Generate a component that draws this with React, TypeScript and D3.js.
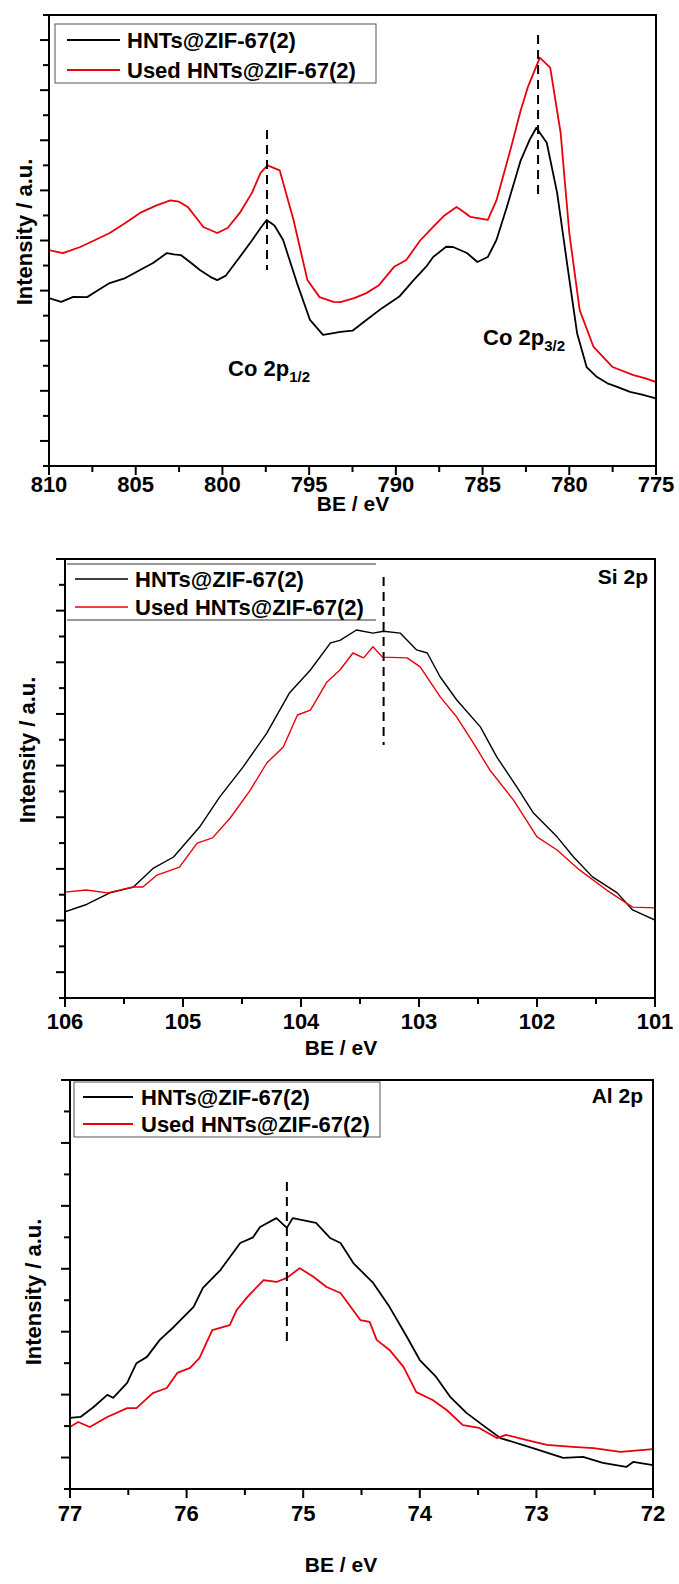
import React from "react";
import * as d3 from "d3";

// ---------------- DATA ----------------
// Co 2p panel (BE in eV, intensity in arbitrary units)
const coBlackBE = [810, 809.3, 808.6, 807.8, 807.2, 806.5, 805.6, 804.75, 804.0, 803.2, 802.8, 802.4, 801.8, 801.3, 800.7, 800.3, 799.8, 799.0, 798.3, 797.8, 797.45, 797.0, 796.5, 795.7, 794.95, 794.2, 793.6, 793.2, 792.5, 791.7, 790.8, 789.8, 789.0, 788.2, 787.85, 787.1, 786.7, 786.3, 785.9, 785.3, 784.7, 784.2, 783.6, 782.8, 782.3, 781.9, 781.3, 780.7, 780.1, 779.55, 779.0, 778.4, 777.8, 777.2, 776.5, 775.8, 775.0];
const coBlackI = [6.70, 6.55, 6.75, 6.74, 7.0, 7.3, 7.5, 7.82, 8.1, 8.5, 8.45, 8.42, 8.1, 7.82, 7.55, 7.42, 7.6, 8.34, 9.0, 9.5, 9.82, 9.6, 9.02, 7.3, 5.83, 5.23, 5.3, 5.35, 5.4, 5.83, 6.3, 6.76, 7.4, 8.0, 8.34, 8.75, 8.74, 8.62, 8.5, 8.14, 8.34, 9.02, 10.34, 12.2, 13.0, 13.5, 12.9, 10.9, 7.95, 5.3, 3.95, 3.55, 3.3, 3.15, 2.96, 2.85, 2.7];
const coRedBE = [810, 809.2, 808.2, 807.4, 806.5, 805.6, 804.75, 803.8, 803.0, 802.5, 802.0, 801.5, 801.1, 800.3, 799.7, 799.0, 798.3, 797.8, 797.4, 796.7, 795.9, 795.1, 794.4, 793.6, 793.2, 792.4, 791.7, 791.0, 790.1, 789.4, 788.6, 787.85, 787.2, 786.5, 786.0, 785.7, 784.7, 784.2, 783.4, 782.8, 782.4, 781.7, 781.1, 780.5, 780.0, 779.4, 778.6, 777.5, 776.3, 775.6, 775.0];
const coRedI = [8.62, 8.5, 8.74, 9.0, 9.3, 9.7, 10.1, 10.4, 10.6, 10.55, 10.34, 9.9, 9.54, 9.3, 9.5, 10.1, 10.9, 11.7, 12.0, 11.8, 9.82, 7.42, 6.74, 6.55, 6.54, 6.7, 6.9, 7.2, 7.95, 8.22, 9.0, 9.54, 10.0, 10.34, 10.1, 9.94, 9.82, 10.6, 12.6, 14.2, 15.1, 16.3, 15.9, 13.3, 9.3, 6.22, 4.75, 3.95, 3.63, 3.5, 3.35];

// Si 2p panel
const siBlackBE = [106, 105.83, 105.62, 105.42, 105.25, 105.08, 104.86, 104.69, 104.49, 104.29, 104.1, 103.92, 103.75, 103.67, 103.53, 103.39, 103.3, 103.16, 103.02, 102.93, 102.82, 102.68, 102.48, 102.34, 102.17, 102.03, 101.83, 101.69, 101.53, 101.32, 101.19, 101.0];
const siBlackI = [3.34, 3.6, 4.07, 4.3, 5.03, 5.46, 6.62, 7.78, 8.95, 10.26, 11.8, 12.7, 13.75, 13.85, 14.25, 14.13, 14.2, 14.13, 13.48, 13.36, 12.43, 11.54, 10.5, 9.33, 8.17, 7.16, 6.24, 5.46, 4.69, 4.07, 3.41, 3.02];
const siRedBE = [106, 105.82, 105.64, 105.42, 105.34, 105.22, 105.03, 104.88, 104.75, 104.6, 104.43, 104.29, 104.15, 104.03, 103.92, 103.78, 103.67, 103.56, 103.47, 103.39, 103.31, 103.1, 102.99, 102.82, 102.68, 102.54, 102.4, 102.2, 102.0, 101.83, 101.64, 101.41, 101.19, 101.0];
const siRedI = [4.1, 4.18, 4.07, 4.3, 4.3, 4.76, 5.07, 6.0, 6.2, 6.97, 8.05, 9.1, 9.72, 10.96, 11.15, 12.24, 12.7, 13.36, 13.17, 13.6, 13.2, 13.17, 12.82, 11.66, 10.88, 9.88, 8.83, 7.67, 6.24, 5.73, 4.96, 4.18, 3.52, 3.49];

// Al 2p panel
const alBlackBE = [77, 76.91, 76.8, 76.68, 76.63, 76.51, 76.43, 76.34, 76.23, 76.11, 75.94, 75.86, 75.71, 75.54, 75.43, 75.37, 75.23, 75.14, 75.09, 74.89, 74.77, 74.68, 74.57, 74.4, 74.26, 74.11, 74.0, 73.86, 73.74, 73.6, 73.46, 73.31, 73.03, 72.77, 72.6, 72.43, 72.23, 72.17, 72.0];
const alBlackI = [2.26, 2.29, 2.6, 2.99, 2.9, 3.37, 4.0, 4.2, 4.74, 5.15, 5.79, 6.39, 6.96, 7.82, 8.0, 8.33, 8.61, 8.3, 8.61, 8.46, 7.98, 7.82, 7.18, 6.55, 5.79, 4.83, 4.1, 3.56, 2.93, 2.42, 2.03, 1.62, 1.3, 0.99, 1.02, 0.83, 0.7, 0.86, 0.76];
const alRedBE = [77, 76.93, 76.83, 76.68, 76.51, 76.43, 76.29, 76.17, 76.08, 75.97, 75.89, 75.78, 75.63, 75.57, 75.48, 75.34, 75.23, 75.14, 75.03, 74.91, 74.8, 74.68, 74.51, 74.43, 74.37, 74.26, 74.14, 74.03, 73.89, 73.77, 73.63, 73.49, 73.34, 73.26, 73.09, 72.91, 72.69, 72.51, 72.28, 72.0];
const alRedI = [1.97, 2.13, 1.97, 2.29, 2.57, 2.57, 3.05, 3.21, 3.69, 3.85, 4.16, 5.05, 5.21, 5.69, 6.1, 6.64, 6.58, 6.71, 7.02, 6.74, 6.42, 6.23, 5.37, 5.31, 4.74, 4.42, 3.88, 3.08, 2.83, 2.51, 2.03, 1.94, 1.62, 1.72, 1.56, 1.4, 1.34, 1.3, 1.18, 1.27];

const seriesNames = ["HNTs@ZIF-67(2)", "Used HNTs@ZIF-67(2)"];
const seriesColors = ["#000000", "#e8000b"];
const coTicks = [810, 805, 800, 795, 790, 785, 780, 775];
const siTicks = [106, 105, 104, 103, 102, 101];
const alTicks = [77, 76, 75, 74, 73, 72];
const xTitle = "BE / eV";
const yTitle = "Intensity / a.u.";

const FONT = "'Liberation Sans', Arial, Helvetica, sans-serif";

type Panel = {
  left: number; right: number; top: number; bottom: number;
  xDom: [number, number]; yMax: number;
  majors: number[]; minorStep: number;
  series: { be: number[]; i: number[] }[];
  strokeW: number;
  labelBase: number; titleX: number; titleBase: number;
  yTitleX: number; yTitleY: number;
  peaks: { be: number; y0: number; y1: number }[];
};

const panels: Panel[] = [
  {
    left: 49, right: 656, top: 15, bottom: 466,
    xDom: [810, 775], yMax: 18, majors: coTicks, minorStep: 2.5,
    series: [{ be: coBlackBE, i: coBlackI }, { be: coRedBE, i: coRedI }],
    strokeW: 1.8, labelBase: 492, titleX: 353, titleBase: 511,
    yTitleX: 24, yTitleY: 232,
    peaks: [{ be: 797.43, y0: 130, y1: 270 }, { be: 781.8, y0: 35, y1: 197 }],
  },
  {
    left: 65, right: 655, top: 559, bottom: 998,
    xDom: [106, 101], yMax: 17, majors: siTicks, minorStep: 0.5,
    series: [{ be: siBlackBE, i: siBlackI }, { be: siRedBE, i: siRedI }],
    strokeW: 1.4, labelBase: 1029, titleX: 341, titleBase: 1055,
    yTitleX: 27, yTitleY: 750,
    peaks: [{ be: 103.3, y0: 577, y1: 745 }],
  },
  {
    left: 70, right: 653, top: 1080, bottom: 1489,
    xDom: [77, 72], yMax: 13, majors: alTicks, minorStep: 0.5,
    series: [{ be: alBlackBE, i: alBlackI }, { be: alRedBE, i: alRedI }],
    strokeW: 1.8, labelBase: 1521, titleX: 341, titleBase: 1572,
    yTitleX: 33, yTitleY: 1292,
    peaks: [{ be: 75.14, y0: 1182, y1: 1347 }],
  },
];

function PanelView({ p, idx }: { p: Panel; idx: number }) {
  const x = d3.scaleLinear().domain(p.xDom).range([p.left, p.right]);
  const y = d3.scaleLinear().domain([0, p.yMax]).range([p.bottom, p.top]);
  const line = d3.line<[number, number]>().x((d) => x(d[0])).y((d) => y(d[1])).curve(d3.curveLinear);
  const minorTicks: number[] = [];
  const lo = Math.min(...p.xDom), hi = Math.max(...p.xDom);
  for (let v = lo; v <= hi + 1e-9; v += p.minorStep) minorTicks.push(+v.toFixed(3));
  const yTicks = d3.range(0, p.yMax + 1);
  const clipId = `clip${idx}`;
  return (
    <g>
      <defs>
        <clipPath id={clipId}>
          <rect x={p.left} y={p.top} width={p.right - p.left} height={p.bottom - p.top} />
        </clipPath>
      </defs>
      <g clipPath={`url(#${clipId})`}>
        {p.series.map((s, k) => (
          <path key={k} d={line(s.be.map((b, j) => [b, s.i[j]] as [number, number])) || ""}
            fill="none" stroke={seriesColors[k]} strokeWidth={p.strokeW} strokeLinejoin="round" />
        ))}
      </g>
      {p.peaks.map((pk, k) => (
        <line key={k} x1={x(pk.be)} x2={x(pk.be)} y1={pk.y0} y2={pk.y1}
          stroke="#000" strokeWidth={2} strokeDasharray="9,6" />
      ))}
      <rect x={p.left} y={p.top} width={p.right - p.left} height={p.bottom - p.top}
        fill="none" stroke="#000" strokeWidth={2} />
      {minorTicks.map((t) => {
        const major = p.majors.some((m) => Math.abs(m - t) < 1e-6);
        return <line key={t} x1={x(t)} x2={x(t)} y1={p.bottom} y2={p.bottom + (major ? 9 : 6)} stroke="#000" strokeWidth={2} />;
      })}
      {yTicks.map((t) => (
        <line key={t} x1={p.left - (t % 2 === 1 ? 9 : 6)} x2={p.left} y1={y(t)} y2={y(t)} stroke="#000" strokeWidth={2} />
      ))}
      {p.majors.map((t) => (
        <text key={t} x={x(t)} y={p.labelBase} textAnchor="middle" fontFamily={FONT} fontWeight="bold" fontSize={22} fill="#000">{t}</text>
      ))}
      <text x={p.titleX} y={p.titleBase} textAnchor="middle" fontFamily={FONT} fontWeight="bold" fontSize={21} fill="#000">{xTitle}</text>
      <text transform={`translate(${p.yTitleX},${p.yTitleY}) rotate(-90)`} textAnchor="middle" dominantBaseline="central"
        fontFamily={FONT} fontWeight="bold" fontSize={22} fill="#000">{yTitle}</text>
    </g>
  );
}

function Legend({ x0, y0, x1, y1, lx0, lx1, ly, tx, thin, boxed }: any) {
  return (
    <g>
      {boxed ? (
        <rect x={x0} y={y0} width={x1 - x0} height={y1 - y0} fill="#fff" stroke="#555" strokeWidth={1} />
      ) : (
        <g>
          <line x1={x0} x2={x1} y1={y0} y2={y0} stroke="#333" strokeWidth={1} />
          <line x1={x0} x2={x1} y1={y1} y2={y1} stroke="#333" strokeWidth={1} />
        </g>
      )}
      {seriesNames.map((n, k) => (
        <g key={n}>
          <line x1={lx0} x2={lx1} y1={ly[k]} y2={ly[k]} stroke={seriesColors[k]} strokeWidth={thin ? 1.3 : 2.2} />
          <text x={tx} y={ly[k] + 8} fontFamily={FONT} fontWeight="bold" fontSize={22} fill="#000">{n}</text>
        </g>
      ))}
    </g>
  );
}

export default function App() {
  return (
    <svg width={679} height={1584} style={{ position: "absolute", left: 0, top: 0, background: "#fff" }}>
      <rect x={0} y={0} width={679} height={1584} fill="#fff" />
      {panels.map((p, i) => <PanelView key={i} p={p} idx={i} />)}

      <Legend x0={55} y0={24} x1={376} y1={83} lx0={67} lx1={120} ly={[40, 70]} tx={127} boxed />
      <text x={228} y={376} fontFamily={FONT} fontWeight="bold" fontSize={22} fill="#000">
        Co 2p<tspan fontSize={15} dy={6}>1/2</tspan>
      </text>
      <text x={483} y={345} fontFamily={FONT} fontWeight="bold" fontSize={22} fill="#000">
        Co 2p<tspan fontSize={15} dy={6}>3/2</tspan>
      </text>

      <Legend x0={67} y0={564} x1={376} y1={620} lx0={75} lx1={128} ly={[579, 607]} tx={135} thin />
      <text x={648} y={584} textAnchor="end" fontFamily={FONT} fontWeight="bold" fontSize={21} fill="#000">Si 2p</text>

      <Legend x0={74} y0={1082} x1={380} y1={1137} lx0={83} lx1={133} ly={[1097, 1124]} tx={141} boxed />
      <text x={643} y={1103} textAnchor="end" fontFamily={FONT} fontWeight="bold" fontSize={21} fill="#000">Al 2p</text>
    </svg>
  );
}
